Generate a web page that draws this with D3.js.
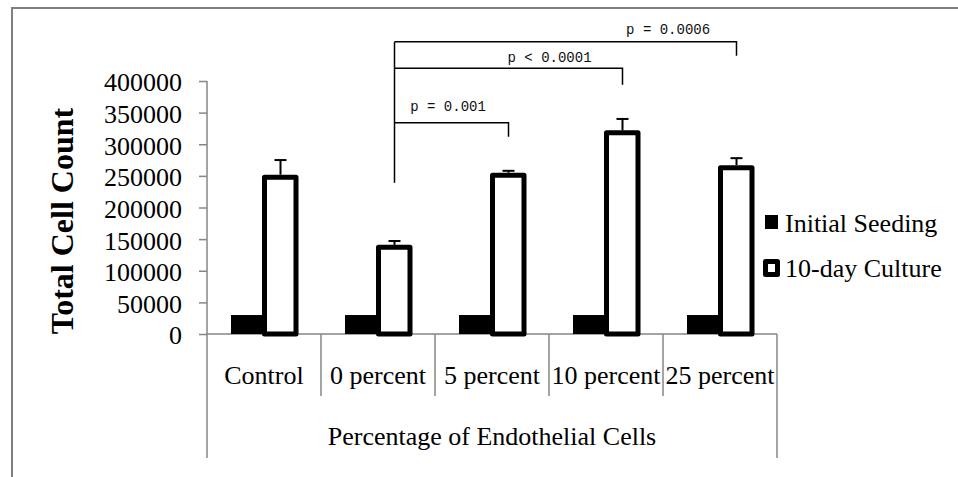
<!DOCTYPE html>
<html>
<head>
<meta charset="utf-8">
<script src="https://cdn.jsdelivr.net/npm/d3@7"></script>
<style>
  html, body { margin: 0; padding: 0; background: #fff; }
  svg { display: block; }
</style>
</head>
<body>
<svg id="chart" width="958" height="477"></svg>
<script>
// ---------- data ----------
const categories = ["Control", "0 percent", "5 percent", "10 percent", "25 percent"];
const seriesNames = ["Initial Seeding", "10-day Culture"];
const initialSeeding = [30000, 30000, 30000, 30000, 30000];
const culture10day = [248000, 137000, 251000, 318000, 263000];
const culture10dayErr = [27000, 10000, 7000, 22000, 15000];
const yTicks = [0, 50000, 100000, 150000, 200000, 250000, 300000, 350000, 400000];
const yTitle = "Total Cell Count";
const xTitle = "Percentage of Endothelial Cells";
// significance brackets (from -> to categories, bracket level and drop end in data units)
const brackets = [
  { from: "0 percent", to: "25 percent", level: 462000, dropEnd: 440000, label: "p = 0.0006", pos: 0.80, lift: 8 },
  { from: "0 percent", to: "10 percent", level: 420000, dropEnd: 394000, label: "p < 0.0001", pos: 0.68, lift: 6 },
  { from: "0 percent", to: "5 percent", level: 334000, dropEnd: 312000, label: "p = 0.001", pos: 0.47, lift: 12 }
];
const bracketLeftEnd = 239000;

// ---------- layout ----------
const svg = d3.select("#chart");
const grey = "#868686";
const serif = "'Liberation Serif', 'Times New Roman', serif";

// outer frame (cut off at right/bottom)
svg.append("rect").attr("x", 12).attr("y", 8).attr("width", 1200).attr("height", 1200)
  .attr("fill", "none").attr("stroke", "#808080").attr("stroke-width", 2);

const y = d3.scaleLinear().domain([0, 400000]).range([334, 81]);
const x0 = d3.scaleBand().domain(categories).range([207, 777]).paddingInner(0).paddingOuter(0);
const x1 = d3.scaleBand().domain(seriesNames).range([0, x0.bandwidth()]).paddingInner(0).paddingOuter(0.727);
const groupBottom = 458, catDividerBottom = 396;

// y axis
const yAxis = svg.append("g").attr("transform", "translate(207,0)")
  .call(d3.axisLeft(y).tickValues(yTicks).tickSize(8).tickSizeOuter(0).tickFormat(d3.format("d")).tickPadding(17));
yAxis.select(".domain").remove();
yAxis.selectAll(".tick line").attr("stroke", grey).attr("stroke-width", 1.5);
yAxis.selectAll(".tick text").attr("font-family", serif).attr("font-size", 26).attr("fill", "#000").attr("dy", "0.38em");

// axis lines
const axisG = svg.append("g").attr("stroke", grey).attr("stroke-width", 1.5).attr("fill", "none");
axisG.append("line").attr("x1", 207).attr("x2", 207).attr("y1", y(400000)).attr("y2", groupBottom);
axisG.append("line").attr("x1", 207).attr("x2", 777).attr("y1", y(0)).attr("y2", y(0));
axisG.append("line").attr("x1", 777).attr("x2", 777).attr("y1", y(0)).attr("y2", groupBottom);
categories.slice(1).forEach(c => {
  axisG.append("line").attr("x1", x0(c)).attr("x2", x0(c)).attr("y1", y(0)).attr("y2", catDividerBottom);
});

// category labels
svg.append("g").selectAll("text").data(categories).join("text")
  .attr("x", d => x0(d) + x0.bandwidth() / 2).attr("y", 384)
  .attr("text-anchor", "middle").attr("font-family", serif).attr("font-size", 26).attr("fill", "#000")
  .text(d => d);

svg.append("text").attr("x", (207 + 777) / 2).attr("y", 445)
  .attr("text-anchor", "middle").attr("font-family", serif).attr("font-size", 26).attr("fill", "#000")
  .text(xTitle);

svg.append("text").attr("transform", "translate(73,221) rotate(-90)")
  .attr("text-anchor", "middle").attr("font-family", serif).attr("font-size", 32).attr("font-weight", "bold")
  .attr("fill", "#000").text(yTitle);

// bars
const bw = x1.bandwidth();
svg.append("g").selectAll("rect").data(categories).join("rect")
  .attr("x", d => x0(d) + x1(seriesNames[0]))
  .attr("y", (d, i) => y(initialSeeding[i]))
  .attr("width", bw)
  .attr("height", (d, i) => y(0) - y(initialSeeding[i]))
  .attr("fill", "#000");

svg.append("g").selectAll("rect").data(categories).join("rect")
  .attr("x", d => x0(d) + x1(seriesNames[1]) + 0.5)
  .attr("y", (d, i) => y(culture10day[i]))
  .attr("width", bw - 1.5)
  .attr("height", (d, i) => y(0) - y(culture10day[i]))
  .attr("fill", "#fff").attr("stroke", "#000").attr("stroke-width", 5).attr("stroke-linejoin", "round");

// error bars
const eg = svg.append("g").attr("stroke", "#000").attr("stroke-width", 2);
categories.forEach((c, i) => {
  const cx = x0(c) + x1(seriesNames[1]) + bw / 2;
  const top = y(culture10day[i] + culture10dayErr[i]);
  eg.append("line").attr("x1", cx).attr("x2", cx).attr("y1", y(culture10day[i]) - 2.5).attr("y2", top);
  eg.append("line").attr("x1", cx - 6).attr("x2", cx + 6).attr("y1", top).attr("y2", top);
});

// significance brackets
const bg = svg.append("g");
const cxOf = c => x0(c) + x1(seriesNames[1]) + bw / 2;
const leftX = cxOf("0 percent");
bg.append("line").attr("x1", leftX).attr("x2", leftX)
  .attr("y1", y(d3.max(brackets, b => b.level))).attr("y2", y(bracketLeftEnd))
  .attr("stroke", "#000").attr("stroke-width", 1.5);
brackets.forEach(b => {
  const xa = cxOf(b.from), xb = cxOf(b.to);
  bg.append("polyline")
    .attr("points", `${xa},${y(b.level)} ${xb},${y(b.level)} ${xb},${y(b.dropEnd)}`)
    .attr("fill", "none").attr("stroke", "#000").attr("stroke-width", 1.5);
  bg.append("text").attr("x", xa + (xb - xa) * b.pos).attr("y", y(b.level) - b.lift)
    .attr("text-anchor", "middle").attr("font-family", "'Liberation Mono', 'Courier New', monospace")
    .attr("font-size", 14).attr("fill", "#111").text(b.label);
});

// legend
const lg = svg.append("g");
lg.append("rect").attr("x", 765).attr("y", 215).attr("width", 13).attr("height", 14).attr("fill", "#000");
lg.append("text").attr("x", 785).attr("y", 231.5).attr("font-family", serif).attr("font-size", 26)
  .attr("fill", "#000").text(seriesNames[0]);
lg.append("rect").attr("x", 765.5).attr("y", 261.5).attr("width", 12).attr("height", 13)
  .attr("fill", "#fff").attr("stroke", "#000").attr("stroke-width", 5).attr("stroke-linejoin", "round");
lg.append("text").attr("x", 785).attr("y", 277).attr("font-family", serif).attr("font-size", 26)
  .attr("fill", "#000").text(seriesNames[1]);
</script>
</body>
</html>
